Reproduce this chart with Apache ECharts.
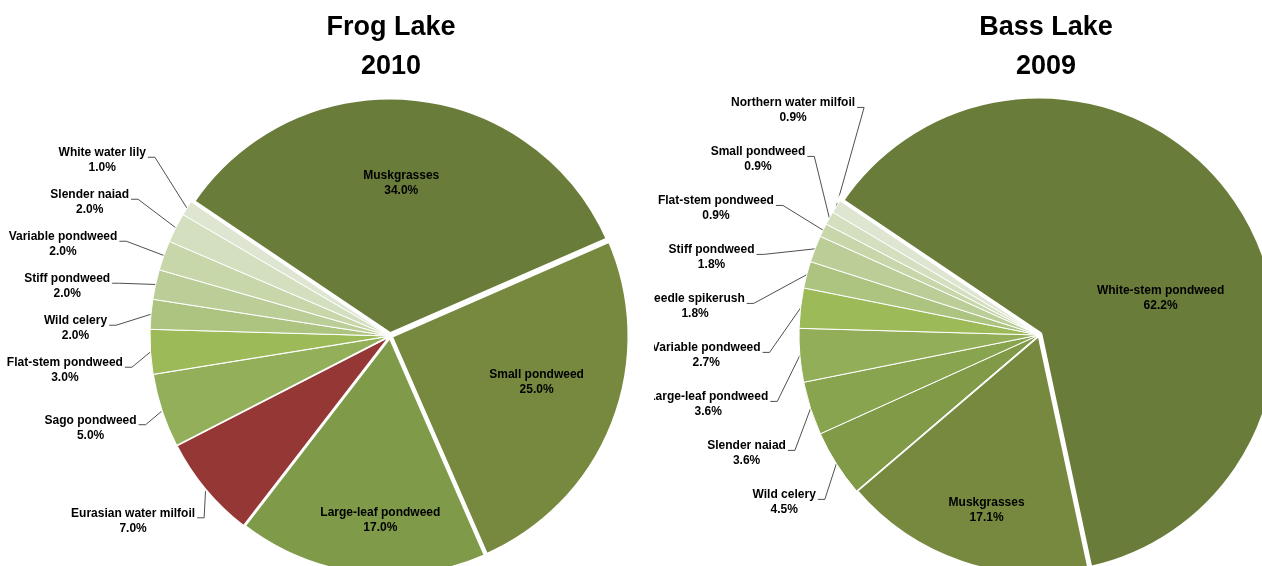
<!DOCTYPE html>
<html>
<head>
<meta charset="utf-8">
<script src="https://cdn.jsdelivr.net/npm/echarts@6/dist/echarts.min.js"></script>
<style>
  html, body { margin: 0; padding: 0; background: #fff; }
  #chart { width: 1262px; height: 566px; }
</style>
</head>
<body>
<div id="chart"></div>
<script>
// Frog Lake 2010 - relative frequency of species (%)
const frogSpecies = ['Muskgrasses', 'Small pondweed', 'Large-leaf pondweed', 'Eurasian water milfoil', 'Sago pondweed',
  'Flat-stem pondweed', 'Wild celery', 'Stiff pondweed', 'Variable pondweed', 'Slender naiad', 'White water lily']
const frogPercent = [34.0, 25.0, 17.0, 7.0, 5.0, 3.0, 2.0, 2.0, 2.0, 2.0, 1.0]

// Bass Lake 2009
const bassSpecies = ['White-stem pondweed', 'Muskgrasses', 'Wild celery', 'Slender naiad', 'Large-leaf pondweed',
  'Variable pondweed', 'Needle spikerush', 'Stiff pondweed', 'Flat-stem pondweed', 'Small pondweed', 'Northern water milfoil']
const bassPercent = [62.2, 17.1, 4.5, 3.6, 3.6, 2.7, 1.8, 1.8, 0.9, 0.9, 0.9]

const frogColors = ['#6a7c3a', '#76893f', '#7f9a49', '#953735', '#93af5a', '#9dba59', '#adc480', '#bcce98', '#c7d7aa', '#d3dfbe', '#dee6d2']
const bassColors = ['#6a7c3a', '#76893f', '#809a48', '#89a44f', '#92ae58', '#9dba59', '#adc480', '#bcce98', '#c7d7aa', '#d3dfbe', '#dee6d2']
const frogBorders = [7, 5, 4, 2, 1.5, 1, 1, 1, 1, 1, 1]
const bassBorders = [7, 3, 1, 1, 1, 1, 1, 1, 1, 1, 1]

// labels drawn on the slice: [fraction of radius, angle nudge in degrees]
const frogInside = { 'Muskgrasses': [0.64, 1], 'Small pondweed': [0.64, 4], 'Large-leaf pondweed': [0.77, 4] }
const bassInside = { 'White-stem pondweed': [0.53, -17], 'Muskgrasses': [0.76, 2] }

const FONT = '"Liberation Sans", Arial, sans-serif'
const START = 146
const RADIUS = 240
const LABEL_R = RADIUS + 44   // used to seed label heights
const HSEG = 7                // short horizontal piece of the leader

// outside label spacing per chart (bend points sit on an ellipse above centre)
const frogLabels = { gap: 42, shift: 0, upA: RADIUS + 34, upB: RADIUS + 108, down: RADIUS + 20 }
const bassLabels = { gap: 49, shift: 8, upA: RADIUS + 47, upB: RADIUS + 47, down: RADIUS + 30 }

const chart = echarts.init(document.getElementById('chart'), null, { renderer: 'canvas' })

function labelText(p) {
  return '{n|' + p.name + '}\n{n|' + p.value.toFixed(1) + '%}'
}

// spread outside labels vertically, Excel style
function outsideLayout(names, inside, mids, cx, cy, cfg) {
  const items = []
  names.forEach((n, i) => {
    if (inside[n]) return
    const a = mids[i] * Math.PI / 180
    items.push({ i: i, a: a, y: cy - Math.sin(a) * LABEL_R, left: Math.cos(a) < 0 })
  })
  ;[true, false].forEach(side => {
    const list = items.filter(d => d.left === side).sort((p, q) => p.y - q.y)
    for (let it = 0; it < 400; it++) {
      let moved = false
      for (let k = 1; k < list.length; k++) {
        const d = list[k].y - list[k - 1].y
        if (d < cfg.gap - 0.01) {
          const s = (cfg.gap - d) / 2
          list[k - 1].y -= s
          list[k].y += s
          moved = true
        }
      }
      if (!moved) break
    }
  })
  const out = {}
  items.forEach(d => {
    d.y += cfg.shift
    const dy = d.y - cy
    let dx
    if (dy < 0) {
      const t = dy / cfg.upB
      dx = cfg.upA * Math.sqrt(Math.max(1 - t * t, 0))
    } else {
      dx = Math.sqrt(Math.max(cfg.down * cfg.down - dy * dy, 0))
    }
    d.x = d.left ? cx - dx : cx + dx
    d.ex = cx + Math.cos(d.a) * RADIUS
    d.ey = cy - Math.sin(d.a) * RADIUS
    out[d.i] = d
  })
  return out
}

function buildSeries(names, values, colors, borders, inside, cx, cy, cfg) {
  const total = values.reduce((a, b) => a + b, 0)
  const mids = []
  let acc = 0
  values.forEach(v => {
    mids.push(START - (acc + v / 2) / total * 360)
    acc += v
  })
  const outside = outsideLayout(names, inside, mids, cx, cy, cfg)
  return {
    type: 'pie',
    center: [cx, cy],
    radius: [0, RADIUS],
    startAngle: START,
    clockwise: true,
    avoidLabelOverlap: false,
    animation: false,
    data: names.map((name, i) => {
      const item = {
        name: name,
        value: values[i],
        itemStyle: { color: colors[i], borderColor: '#fff', borderWidth: borders[i] }
      }
      if (inside[name]) {
        item.label = { position: 'inside' }
        item.labelLine = { show: false }
      }
      return item
    }),
    label: {
      formatter: labelText,
      rich: {
        n: { fontFamily: FONT, fontSize: 12, fontWeight: 'bold', color: '#000', lineHeight: 15, align: 'center' }
      }
    },
    labelLine: {
      length: 4,
      length2: 4,
      lineStyle: { color: '#222', width: 0.8 }
    },
    labelLayout: function (params) {
      const i = params.dataIndex
      const pos = inside[names[i]]
      if (pos) {
        const a = (mids[i] + pos[1]) * Math.PI / 180
        return {
          x: cx + Math.cos(a) * RADIUS * pos[0],
          y: cy - Math.sin(a) * RADIUS * pos[0],
          align: 'center',
          verticalAlign: 'middle'
        }
      }
      const d = outside[i]
      const dir = d.left ? -1 : 1
      return {
        x: d.x + dir * (HSEG + 2),
        y: d.y + 3,
        align: d.left ? 'right' : 'left',
        verticalAlign: 'middle',
        labelLinePoints: [[d.ex, d.ey], [d.x, d.y], [d.x + dir * HSEG, d.y]]
      }
    }
  }
}

const titleStyle = { fontFamily: FONT, fontSize: 27, fontWeight: 'bold', color: '#000', lineHeight: 39 }

chart.setOption({
  backgroundColor: '#fff',
  title: [
    { text: 'Frog Lake\n2010', left: 391, top: 8, textAlign: 'center', padding: 0, textStyle: titleStyle },
    { text: 'Bass Lake\n2009', left: 1046, top: 8, textAlign: 'center', padding: 0, textStyle: titleStyle }
  ],
  series: [
    buildSeries(frogSpecies, frogPercent, frogColors, frogBorders, frogInside, 390, 336, frogLabels),
    buildSeries(bassSpecies, bassPercent, bassColors, bassBorders, bassInside, 1039, 335, bassLabels)
  ],
  graphic: [
    { type: 'rect', z: 100, shape: { x: 632, y: 95, width: 22, height: 471 }, style: { fill: '#fff' } }
  ]
})
</script>
</body>
</html>
